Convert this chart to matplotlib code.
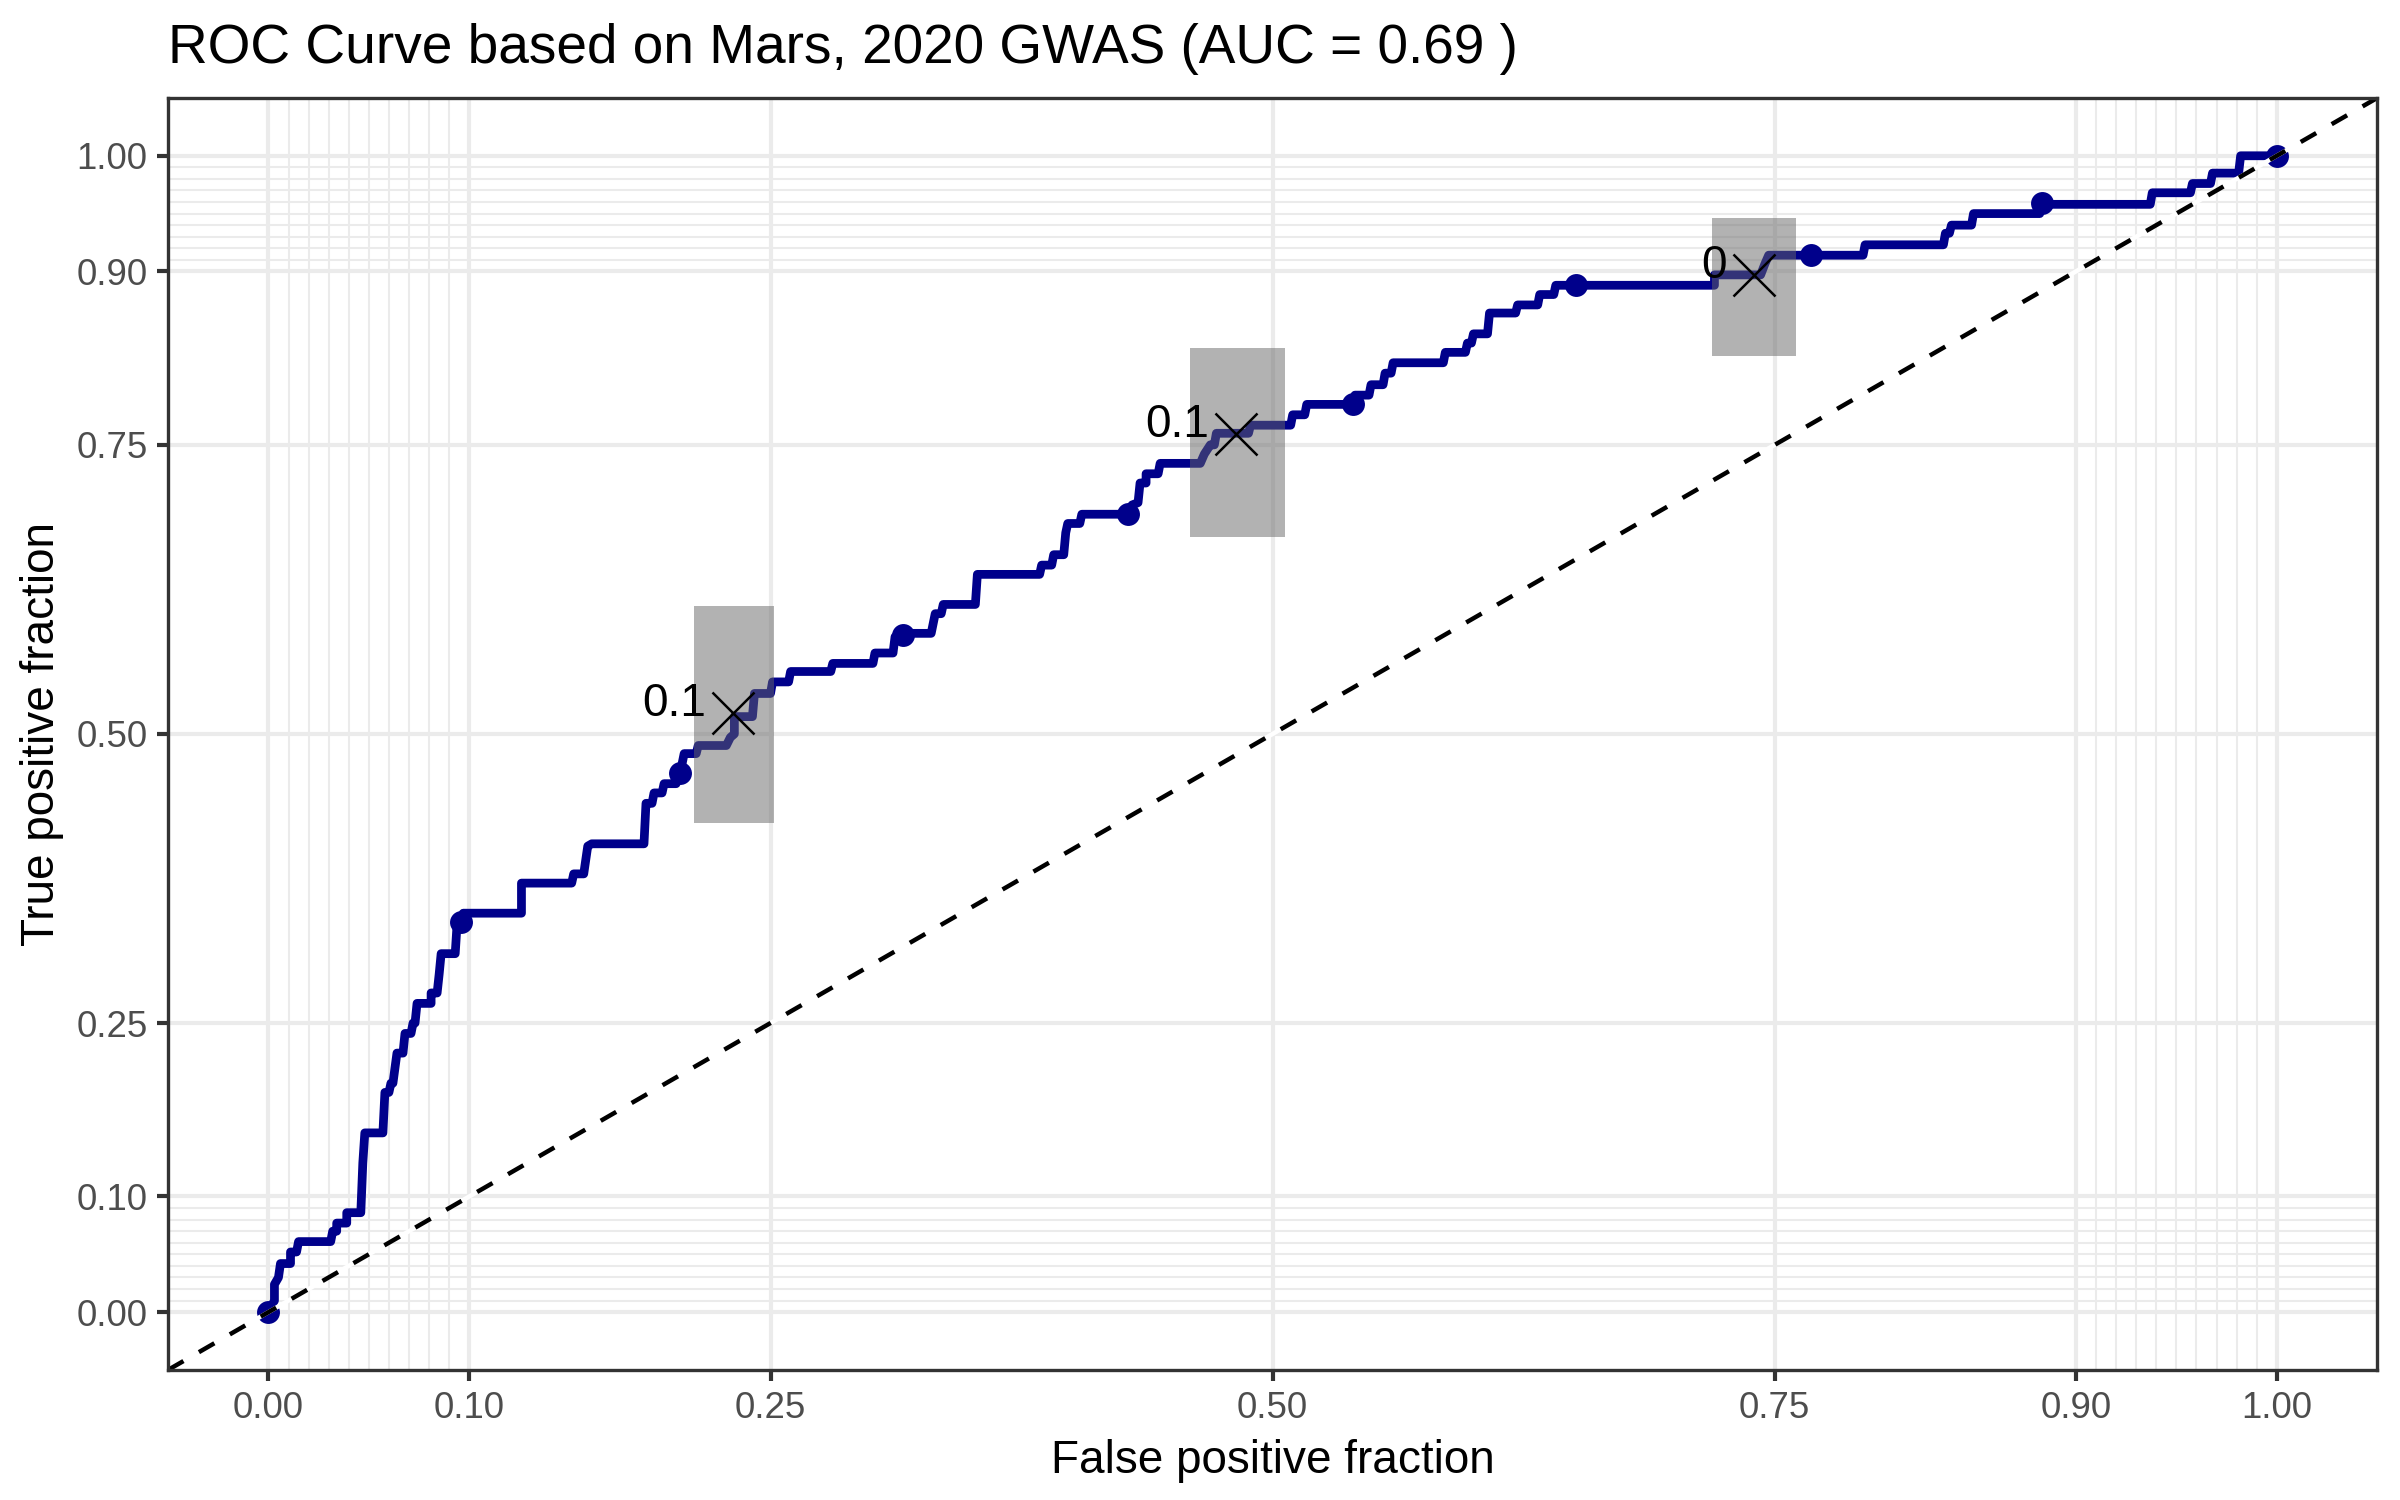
import matplotlib
matplotlib.use("Agg")
import matplotlib.pyplot as plt
import numpy as np

plt.rcParams['font.family'] = ['Liberation Sans', 'DejaVu Sans']

# ROC path (false positive fraction, true positive fraction)
fpf = [0.000, 0.003, 0.003, 0.005, 0.006, 0.011, 0.011, 0.014, 0.015, 0.031,
       0.032, 0.034, 0.034, 0.039, 0.039, 0.046, 0.047, 0.048, 0.057, 0.058,
       0.060, 0.061, 0.062, 0.064, 0.067, 0.068, 0.071, 0.072, 0.073, 0.074,
       0.081, 0.081, 0.084, 0.085, 0.086, 0.093, 0.094, 0.096, 0.097, 0.126,
       0.126, 0.151, 0.152, 0.157, 0.159, 0.161, 0.187, 0.188, 0.191, 0.192,
       0.196, 0.197, 0.203, 0.205, 0.207, 0.213, 0.214, 0.228, 0.230, 0.232,
       0.232, 0.241, 0.242, 0.250, 0.251, 0.259, 0.260, 0.280, 0.281, 0.301,
       0.302, 0.311, 0.312, 0.316, 0.330, 0.332, 0.335, 0.336, 0.352, 0.353,
       0.384, 0.385, 0.390, 0.391, 0.396, 0.397, 0.398, 0.404, 0.405, 0.428,
       0.430, 0.433, 0.434, 0.437, 0.437, 0.443, 0.444, 0.464, 0.466, 0.469,
       0.471, 0.472, 0.488, 0.489, 0.509, 0.510, 0.516, 0.517, 0.540, 0.541,
       0.548, 0.549, 0.555, 0.556, 0.559, 0.560, 0.585, 0.586, 0.596, 0.597,
       0.599, 0.600, 0.607, 0.608, 0.621, 0.622, 0.632, 0.633, 0.640, 0.641,
       0.720, 0.720, 0.743, 0.745, 0.747, 0.794, 0.795, 0.834, 0.835, 0.837,
       0.838, 0.848, 0.849, 0.882, 0.883, 0.937, 0.938, 0.957, 0.958, 0.967,
       0.968, 0.981, 0.982, 1.000]
tpf = [0.000, 0.010, 0.024, 0.030, 0.042, 0.042, 0.052, 0.052, 0.061, 0.061,
       0.070, 0.070, 0.077, 0.077, 0.086, 0.086, 0.129, 0.155, 0.155, 0.190,
       0.190, 0.198, 0.198, 0.224, 0.224, 0.241, 0.241, 0.250, 0.250, 0.267,
       0.267, 0.276, 0.276, 0.292, 0.310, 0.310, 0.337, 0.337, 0.345, 0.345,
       0.371, 0.371, 0.379, 0.379, 0.403, 0.405, 0.405, 0.440, 0.440, 0.449,
       0.449, 0.457, 0.457, 0.466, 0.483, 0.483, 0.490, 0.490, 0.497, 0.500,
       0.515, 0.515, 0.535, 0.535, 0.545, 0.545, 0.554, 0.554, 0.561, 0.561,
       0.570, 0.570, 0.584, 0.587, 0.587, 0.604, 0.604, 0.612, 0.612, 0.638,
       0.638, 0.646, 0.646, 0.655, 0.655, 0.674, 0.682, 0.682, 0.690, 0.690,
       0.698, 0.700, 0.717, 0.717, 0.725, 0.725, 0.734, 0.734, 0.742, 0.750,
       0.750, 0.760, 0.760, 0.767, 0.767, 0.776, 0.776, 0.785, 0.785, 0.793,
       0.793, 0.802, 0.802, 0.812, 0.812, 0.821, 0.821, 0.830, 0.830, 0.838,
       0.838, 0.846, 0.846, 0.864, 0.864, 0.871, 0.871, 0.880, 0.880, 0.888,
       0.888, 0.897, 0.897, 0.906, 0.914, 0.914, 0.923, 0.923, 0.933, 0.933,
       0.940, 0.940, 0.950, 0.950, 0.958, 0.958, 0.968, 0.968, 0.976, 0.976,
       0.985, 0.985, 1.000, 1.000]

# cutoff points shown as dots
cut_fpf = [0.000, 0.096, 0.205, 0.316, 0.428, 0.540, 0.651, 0.768, 0.883, 1.000]
cut_tpf = [0.000, 0.337, 0.466, 0.586, 0.690, 0.785, 0.888, 0.914, 0.959, 1.000]

# confidence regions at selected cutoffs
ci_fpf = [0.2314, 0.482, 0.7397]
ci_tpf = [0.518, 0.759, 0.897]
ci_fpf_lo = [0.212, 0.459, 0.7186]
ci_fpf_hi = [0.2517, 0.506, 0.7605]
ci_tpf_lo = [0.4227, 0.6707, 0.827]
ci_tpf_hi = [0.611, 0.8336, 0.946]
ci_labels = ["0.1", "0.1", "0"]

major_breaks = [0, 0.1, 0.25, 0.5, 0.75, 0.9, 1]
minor_breaks = list(np.round(np.arange(0, 0.101, 0.01), 2)) + list(np.round(np.arange(0.9, 1.001, 0.01), 2))
tick_labels = ["0.00", "0.10", "0.25", "0.50", "0.75", "0.90", "1.00"]

fig = plt.figure(figsize=(8, 5), dpi=300)
ax = fig.add_axes([0.07, 0.0867, 0.9205, 0.848])

ax.set_xlim(-0.05, 1.05)
ax.set_ylim(-0.05, 1.05)

# grid
for b in minor_breaks:
    ax.axvline(b, color='#EBEBEB', lw=0.5, zorder=0)
    ax.axhline(b, color='#EBEBEB', lw=0.5, zorder=0)
for b in major_breaks:
    ax.axvline(b, color='#EBEBEB', lw=1.0, zorder=0.5)
    ax.axhline(b, color='#EBEBEB', lw=1.0, zorder=0.5)

# ROC curve and cutoff points
ax.plot(fpf, tpf, color='#00008B', lw=2.1, solid_joinstyle='round',
        solid_capstyle='butt', zorder=2)
ax.plot(cut_fpf, cut_tpf, 'o', color='#00008B', ms=5.5, mew=0, zorder=2.1)

# confidence rectangles, crosses and labels
for i in range(len(ci_fpf)):
    ax.fill_between([ci_fpf_lo[i], ci_fpf_hi[i]], ci_tpf_lo[i], ci_tpf_hi[i],
                    color='#666666', alpha=0.5, lw=0, zorder=3)
ax.plot(ci_fpf, ci_tpf, 'x', color='black', ms=10, mew=0.6, zorder=4)
for i in range(len(ci_fpf)):
    ax.annotate(ci_labels[i], (ci_fpf[i], ci_tpf[i]), xytext=(-6.5, 2.2),
                textcoords='offset points', ha='right', va='center',
                fontsize=11, color='black', zorder=5)

# chance line
diag = [-0.05, 1.05]
ax.plot(diag, diag, color='white', lw=1.07, zorder=3.5)
ax.plot(diag, diag, color='black', lw=1.07, dashes=(4, 4), zorder=3.6)

ax.set_xticks(major_breaks)
ax.set_yticks(major_breaks)
ax.set_xticklabels(tick_labels)
ax.set_yticklabels(tick_labels)
ax.tick_params(length=2.75, width=1.0, color='#333333', labelcolor='#4D4D4D',
               labelsize=8.8, pad=2.2)
for s in ax.spines.values():
    s.set_color('#333333')
    s.set_linewidth(0.8)
    s.set_zorder(6)

fig.text(0.07, 0.958, "ROC Curve based on Mars, 2020 GWAS (AUC = 0.69 )",
         fontsize=13.2, ha='left', va='baseline', color='black')
fig.text(0.07 + 0.9205 / 2, 0.026, "False positive fraction", fontsize=11,
         ha='center', va='center')
fig.text(0.0173, 0.0867 + 0.848 / 2, "True positive fraction", fontsize=11,
         ha='center', va='center', rotation=90)

fig.savefig("out.png", dpi=300)
